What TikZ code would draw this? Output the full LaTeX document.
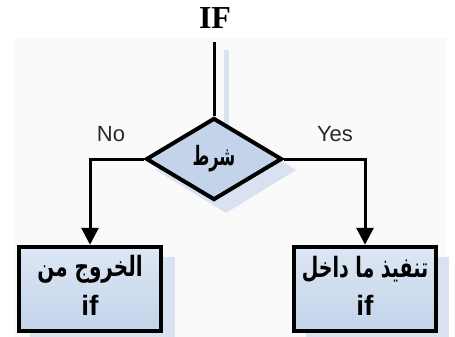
\documentclass[tikz,border=0pt]{standalone}
\usepackage{graphicx}
\usepackage{fontspec}
\setmainfont{Liberation Serif}
\newfontfamily\labelfont{Liberation Sans}
\newfontfamily\arabicfont[Script=Arabic]{DejaVu Sans}
\TeXXeTstate=1
\usetikzlibrary{shapes.geometric,arrows.meta}
\definecolor{boxfill}{HTML}{C2D3EA}
\definecolor{boxtop}{HTML}{DDE7F4}
\definecolor{shadowblue}{HTML}{D8E2F1}
\definecolor{panel}{HTML}{FAFAFA}
\definecolor{labelgray}{HTML}{2A2A2A}
% tall, narrow Arabic words
\newcommand{\arline}[2][0.85]{\scalebox{#1}[1.4]{\beginR #2\endR}}
\tikzset{
  x=1pt, y=-1pt,
  stepbox/.style={draw=black, line width=4.5pt, top color=boxtop, bottom color=boxfill,
    minimum width=142pt, minimum height=84pt, inner sep=0pt},
  decision/.style={diamond, draw=black, line width=4pt, fill=boxfill,
    minimum width=136pt, minimum height=82pt, inner sep=0pt,
    font=\arabicfont\bfseries\fontsize{19}{22}\selectfont},
  flow/.style={draw=black, line width=3pt, -{Triangle[length=17pt,width=17pt]}},
  branchlabel/.style={font=\labelfont\fontsize{22}{24}\selectfont, text=labelgray},
  shade/.style={fill=shadowblue, draw=none},
  artext/.style={font=\arabicfont\bfseries\fontsize{20}{24}\selectfont},
  iftext/.style={font=\labelfont\bfseries\fontsize{28}{30}\selectfont}
}
\begin{document}
\begin{tikzpicture}
\useasboundingbox (0,0) rectangle (455,337);
\fill[white] (0,0) rectangle (455,337);
\fill[panel] (13,38) rectangle (447,337);

% soft shadows behind the shapes
\fill[shadowblue] (224,50) rectangle (229,125);
\fill[shade] (226,127) -- (296,170) -- (226,213) -- (156,170) -- cycle;
\fill[shade] (30,257) rectangle (175,337);
\fill[shade] (306,257) rectangle (449,337);

% title
\node[font=\bfseries\fontsize{32}{34}\selectfont] (title) at (215,18) {IF};

% decision and outcome boxes
\coordinate (entry) at (214,42);
\node[decision] (cond) at (214,159) {\arline{شرط}};
\node[stepbox] (exit) at (90,289) {};
\node[stepbox] (run) at (365,289) {};
\node[artext] (exitA) at ([yshift=20pt]exit.center) {\arline[1.0]{الخروج من}};
\node[iftext] (exitB) at ([yshift=-16pt]exit.center) {if};
\node[artext] (runA) at ([yshift=20pt]run.center) {\arline[0.95]{تنفيذ ما داخل}};
\node[iftext] (runB) at ([yshift=-16pt]run.center) {if};

% connectors
\draw[draw=black, line width=3pt] (entry) -- (cond.north);
\draw[flow] (cond.west) -| (exit.north);
\draw[flow] (cond.east) -| (run.north);

% branch labels
\node[branchlabel] (no) at (111,134) {No};
\node[branchlabel] (yes) at (335,134) {Yes};
\end{tikzpicture}
\end{document}
